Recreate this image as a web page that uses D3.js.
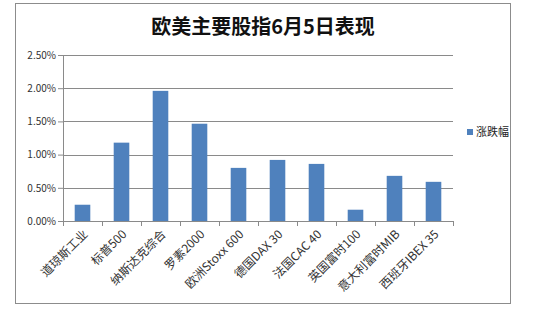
<!DOCTYPE html>
<html><head><meta charset="utf-8">
<script src="https://cdn.jsdelivr.net/npm/d3@7"></script>
<style>
body{margin:0;background:#fff;}
text{font-family:"Noto Sans CJK SC","Noto Sans",sans-serif;}
</style></head>
<body><div id="chart"></div>
<script>
// data
const names=["道琼斯工业","标普500","纳斯达克综合","罗素2000","欧洲Stoxx 600","德国DAX 30","法国CAC 40","英国富时100","意大利富时MIB","西班牙IBEX 35"];
const changes=[0.245,1.18,1.96,1.465,0.80,0.92,0.86,0.17,0.68,0.59];
const yTicks=[0,0.5,1,1.5,2,2.5];

const W=545,H=315;
const MG={t:55,l:63,r:92,b:94};
const iW=W-MG.l-MG.r, iH=H-MG.t-MG.b;

const svg=d3.select("#chart").append("svg").attr("width",W).attr("height",H);
svg.append("rect").attr("x",15.5).attr("y",3.5).attr("width",495).attr("height",300)
  .attr("fill","#fff").attr("stroke","#8c8c8c");

svg.append("text").attr("x",263).attr("y",34).attr("text-anchor","middle")
  .attr("font-size",20).attr("font-weight","bold").attr("fill","#111").text("欧美主要股指6月5日表现");

const g=svg.append("g").attr("transform",`translate(${MG.l},${MG.t})`);
const x=d3.scaleBand().domain(names).range([0,iW]).paddingInner(0.6).paddingOuter(0.3);
const y=d3.scaleLinear().domain([0,2.5]).range([iH,0]);

// grid
g.append("g").selectAll("line").data(yTicks.slice(1)).join("line")
  .attr("x1",0).attr("x2",iW).attr("y1",d=>Math.round(y(d))+0.5).attr("y2",d=>Math.round(y(d))+0.5)
  .attr("stroke","#8a8a8a");

// y axis
const ya=g.append("g").call(d3.axisLeft(y).tickValues(yTicks).tickSize(5).tickFormat(d=>d.toFixed(2)+"%"));
ya.select(".domain").attr("stroke","#8a8a8a");
ya.selectAll(".tick line").attr("stroke","#8a8a8a");
ya.selectAll(".tick text").attr("font-size",10).attr("fill","#333").attr("x",-7)
  .attr("font-family","'Liberation Sans',Arial,sans-serif");

// bars
g.selectAll(".bar").data(changes).join("rect").attr("class","bar")
  .attr("x",(d,i)=>x(names[i])).attr("y",d=>y(d)).attr("width",x.bandwidth()).attr("height",d=>iH-y(d))
  .attr("fill","#4f81bd");

// x axis
const step=iW/names.length;
const xa=g.append("g").attr("transform",`translate(0,${iH})`);
xa.append("line").attr("x1",0).attr("x2",iW).attr("y1",0.5).attr("y2",0.5).attr("stroke","#8a8a8a");
xa.selectAll(".xt").data(d3.range(names.length+1)).join("line")
  .attr("x1",i=>Math.round(i*step)+0.5).attr("x2",i=>Math.round(i*step)+0.5).attr("y1",0).attr("y2",5)
  .attr("stroke","#8a8a8a");
xa.selectAll(".xl").data(names).join("text")
  .attr("transform",d=>`translate(${x(d)+x.bandwidth()/2+3},11) rotate(-45)`)
  .attr("text-anchor","end").attr("dy","0.35em").attr("font-size",12).attr("fill","#333").text(d=>d);

// legend
svg.append("rect").attr("x",467).attr("y",129).attr("width",6).attr("height",6).attr("fill","#4f81bd");
svg.append("text").attr("x",476).attr("y",136).attr("font-size",11).attr("fill","#222").text("涨跌幅");
</script></body></html>
